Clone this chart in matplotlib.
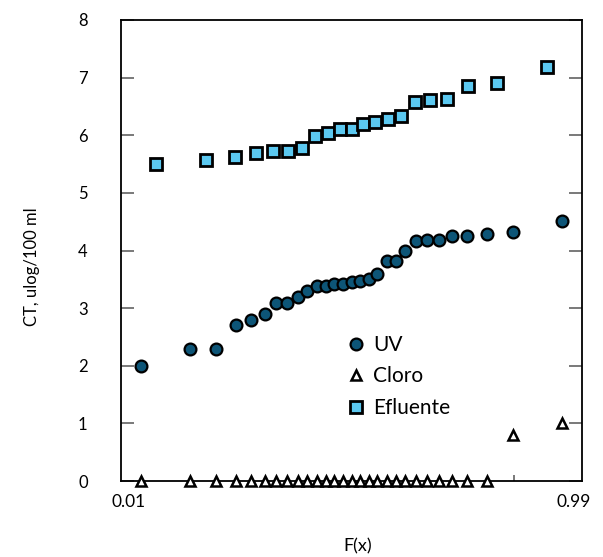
import math
import numpy as np
import matplotlib
matplotlib.use("Agg")
import matplotlib.pyplot as plt

plt.rcParams["font.family"] = ["Lato", "DejaVu Sans"]

# plotting positions F(x) and values
f_uv = [0.017, 0.052, 0.086, 0.121, 0.155, 0.190, 0.224, 0.259, 0.293, 0.328,
        0.362, 0.397, 0.431, 0.466, 0.500, 0.534, 0.569, 0.603, 0.638, 0.672,
        0.707, 0.741, 0.776, 0.810, 0.845, 0.879, 0.914, 0.948, 0.983]
uv = [2.00, 2.29, 2.29, 2.70, 2.79, 2.89, 3.09, 3.09, 3.19, 3.29,
      3.39, 3.39, 3.42, 3.42, 3.45, 3.47, 3.50, 3.59, 3.82, 3.82,
      3.99, 4.17, 4.18, 4.19, 4.25, 4.25, 4.29, 4.32, 4.51]
cloro = [0, 0, 0, 0, 0, 0, 0, 0, 0, 0,
         0, 0, 0, 0, 0, 0, 0, 0, 0, 0,
         0, 0, 0, 0, 0, 0, 0, 0.80, 1.00]

f_ef = [0.024, 0.071, 0.119, 0.167, 0.214, 0.262, 0.310, 0.357, 0.405, 0.452,
        0.500, 0.548, 0.595, 0.643, 0.690, 0.738, 0.786, 0.833, 0.881, 0.929,
        0.976]
efluente = [5.50, 5.57, 5.63, 5.69, 5.72, 5.73, 5.78, 5.99, 6.04, 6.10,
            6.10, 6.19, 6.23, 6.28, 6.34, 6.57, 6.61, 6.63, 6.86, 6.91,
            7.18]

x_range = [0.01, 0.99]
x_minor = [0.95]


def norm_ppf(p):
    # inverse standard normal by bisection on erf
    lo, hi = -10.0, 10.0
    for _ in range(80):
        mid = (lo + hi) / 2
        if 0.5 * (1 + math.erf(mid / math.sqrt(2))) < p:
            lo = mid
        else:
            hi = mid
    return (lo + hi) / 2


def z(vals):
    return np.array([norm_ppf(v) for v in vals])


fig = plt.figure(figsize=(6.03, 5.57), dpi=100)
ax = fig.add_axes([0.2007, 0.1364, 0.7645, 0.8277])

uv_col = "#0d5577"
ef_col = "#5bc8f0"

ax.plot(z(f_uv), uv, "o", ms=8.5, mfc=uv_col, mec="black", mew=1.6,
        label="UV", clip_on=False, zorder=3)
ax.plot(z(f_uv), cloro, "^", ms=6.5, mfc="white", mec="black", mew=1.8,
        label="Cloro", clip_on=False, zorder=4)
ax.plot(z(f_ef), efluente, "s", ms=8.5, mfc=ef_col, mec="black", mew=2.0,
        label="Efluente", clip_on=False, zorder=3)

zr = z(x_range)
ax.set_xlim(zr[0], zr[1])
ax.set_ylim(0, 8)
ax.set_yticks(range(0, 9))
ax.tick_params(axis="y", direction="in", length=9.5, width=1.1, color="#555555",
               left=True, right=True, labelsize=12, pad=24)
ax.set_xticks(z(x_minor))
ax.set_xticklabels([])
ax.tick_params(axis="x", direction="in", length=4.5, width=1.1, color="#555555")
for s in ax.spines.values():
    s.set_linewidth(1.3)

fig.text(129 / 603, 1 - 502 / 557, "0.01", ha="center", va="center", fontsize=12.5)
fig.text(574 / 603, 1 - 502 / 557, "0.99", ha="center", va="center", fontsize=12.5)
fig.text(358 / 603, 1 - 546 / 557, "F(x)", ha="center", va="center", fontsize=13)
fig.text(32 / 603, 1 - 267 / 557, "CT, ulog/100 ml", ha="center", va="center",
         rotation=90, fontsize=12)

leg = ax.legend(loc="upper left", bbox_to_anchor=(0.467, 0.335), frameon=False,
                fontsize=15, handletextpad=0.25, labelspacing=0.55,
                handlelength=1.1, borderaxespad=0)

fig.savefig("out.png", dpi=100)
